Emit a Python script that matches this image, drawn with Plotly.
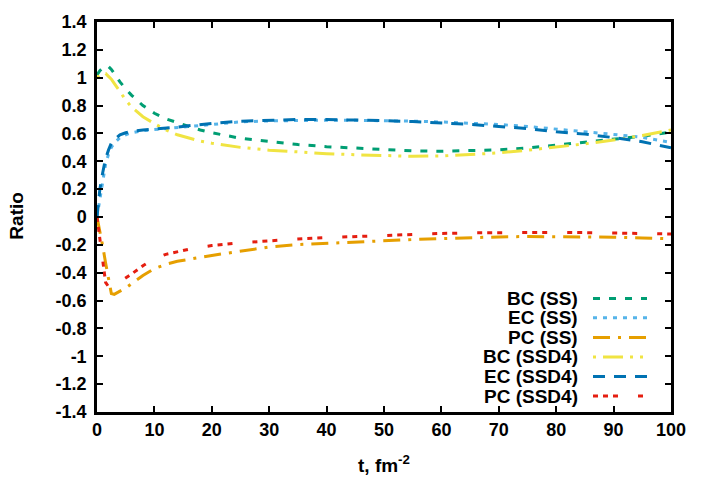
import plotly.graph_objects as go

t = [0, 0.5, 1, 1.5, 2, 2.5, 3, 4, 5, 6, 8, 10, 12, 14, 16, 18, 20, 25, 30, 35,
     40, 45, 50, 55, 60, 65, 70, 75, 80, 85, 90, 95, 100]

bc_ss = [1.02, 1.05, 1.07, 1.085, 1.08, 1.06, 1.03, 0.97, 0.92, 0.875, 0.8, 0.745, 0.705,
         0.675, 0.65, 0.625, 0.605, 0.565, 0.54, 0.52, 0.505, 0.495, 0.485, 0.475, 0.472,
         0.475, 0.482, 0.495, 0.515, 0.535, 0.555, 0.58, 0.61]
ec_ss = [0.0, 0.12, 0.27, 0.38, 0.45, 0.5, 0.53, 0.57, 0.59, 0.605, 0.62, 0.628, 0.635,
         0.643, 0.652, 0.66, 0.668, 0.683, 0.69, 0.694, 0.695, 0.694, 0.692, 0.688, 0.682,
         0.674, 0.664, 0.65, 0.632, 0.612, 0.593, 0.572, 0.535]
pc_ss = [0.0, -0.1, -0.21, -0.33, -0.45, -0.55, -0.555, -0.535, -0.51, -0.48, -0.42, -0.37,
         -0.34, -0.318, -0.302, -0.29, -0.276, -0.245, -0.215, -0.198, -0.188, -0.177, -0.168,
         -0.162, -0.155, -0.148, -0.143, -0.14, -0.14, -0.142, -0.145, -0.15, -0.157]
bc_ssd4 = [1.0, 1.02, 1.03, 1.03, 1.01, 0.99, 0.96, 0.9, 0.84, 0.79, 0.72, 0.67, 0.625,
           0.59, 0.565, 0.545, 0.53, 0.5, 0.48, 0.465, 0.455, 0.447, 0.44, 0.436, 0.438,
           0.447, 0.46, 0.48, 0.5, 0.525, 0.553, 0.585, 0.625]
ec_ssd4 = [0.0, 0.2, 0.32, 0.42, 0.48, 0.53, 0.555, 0.59, 0.605, 0.615, 0.625, 0.63, 0.637,
           0.645, 0.655, 0.665, 0.672, 0.688, 0.696, 0.7, 0.7, 0.697, 0.692, 0.685, 0.677,
           0.665, 0.65, 0.635, 0.612, 0.595, 0.57, 0.54, 0.497]
pc_ssd4 = [0.0, -0.15, -0.33, -0.47, -0.5, -0.495, -0.49, -0.465, -0.44, -0.41, -0.35, -0.3,
           -0.268, -0.248, -0.232, -0.217, -0.205, -0.185, -0.17, -0.158, -0.148, -0.14,
           -0.132, -0.125, -0.118, -0.114, -0.111, -0.11, -0.11, -0.112, -0.115, -0.118, -0.122]

names = ["BC (SS)", "EC (SS)", "PC (SS)", "BC (SSD4)", "EC (SSD4)", "PC (SSD4)"]
series = [bc_ss, ec_ss, pc_ss, bc_ssd4, ec_ssd4, pc_ssd4]
colors = ["#009e73", "#56b4e9", "#e69f00", "#f0e442", "#0072b2", "#e51e10"]
dashes = ["7px,9px", "4px,6px", "17px,8px,3px,8px", "3px,7px,20px,7px,3px,7px",
          "12px,9px", "5px,5px,5px,5px,5px,20px"]

x_ticks = [0, 10, 20, 30, 40, 50, 60, 70, 80, 90, 100]
y_ticks = [1.4, 1.2, 1.0, 0.8, 0.6, 0.4, 0.2, 0.0, -0.2, -0.4, -0.6, -0.8, -1.0, -1.2, -1.4]
y_tick_text = ["1.4", "1.2", "1", "0.8", "0.6", "0.4", "0.2", "0", "-0.2", "-0.4", "-0.6",
               "-0.8", "-1", "-1.2", "-1.4"]

FONT = "Liberation Sans"
fig = go.Figure()
for name, ys, c, d in zip(names, series, colors, dashes):
    fig.add_trace(go.Scatter(x=t, y=ys, mode="lines", name=name,
                             line=dict(color=c, width=3, dash=d), showlegend=False))

# gnuplot-style key: right-aligned text, sample to the right
W, H = 574.0, 392.7
row_py = [297.3, 316.9, 336.6, 356.2, 375.9, 395.6]
for i, (name, c, d) in enumerate(zip(names, colors, dashes)):
    py = (411.7 - row_py[i]) / H
    fig.add_annotation(x=(580 - 97) / W, y=py, xref="paper", yref="paper",
                       text="<b>%s</b>" % name, showarrow=False, xanchor="right",
                       yanchor="middle", font=dict(family=FONT, size=19, color="black"))
    fig.add_shape(type="line", xref="paper", yref="paper",
                  x0=(593 - 97) / W, x1=(647 - 97) / W, y0=py, y1=py,
                  line=dict(color=c, width=3, dash=d))

fig.add_annotation(x=0.5, y=(411.7 - 464) / H, xref="paper", yref="paper",
                   text="<b>t, fm<sup>-2</sup></b>", showarrow=False,
                   xanchor="center", yanchor="middle",
                   font=dict(family=FONT, size=19, color="black"))
fig.add_annotation(x=(17 - 97) / W, y=(411.7 - 214) / H, xref="paper", yref="paper",
                   text="<b>Ratio</b>", showarrow=False, textangle=-90,
                   xanchor="center", yanchor="middle",
                   font=dict(family=FONT, size=19, color="black"))

axis_common = dict(showgrid=False, zeroline=False, showline=True, linecolor="black",
                   linewidth=2.5, mirror="ticks", ticks="inside", ticklen=6,
                   tickwidth=1.5, tickcolor="black",
                   tickfont=dict(family=FONT, size=18, color="black"))
fig.update_layout(
    width=706, height=494,
    margin=dict(l=97, r=35, t=19, b=82),
    paper_bgcolor="white", plot_bgcolor="white",
    xaxis=dict(range=[0, 100], tickvals=x_ticks,
               ticktext=["<b>%d</b>" % v for v in x_ticks], **axis_common),
    yaxis=dict(range=[-1.4, 1.4], tickvals=y_ticks,
               ticktext=["<b>%s</b>" % s for s in y_tick_text], ticklabelstandoff=4,
               **axis_common),
    font=dict(family=FONT, color="black"),
)
fig.write_html("out.html", config={"displayModeBar": False},
               post_script="document.body.style.margin='0px';document.body.style.padding='0px';")
